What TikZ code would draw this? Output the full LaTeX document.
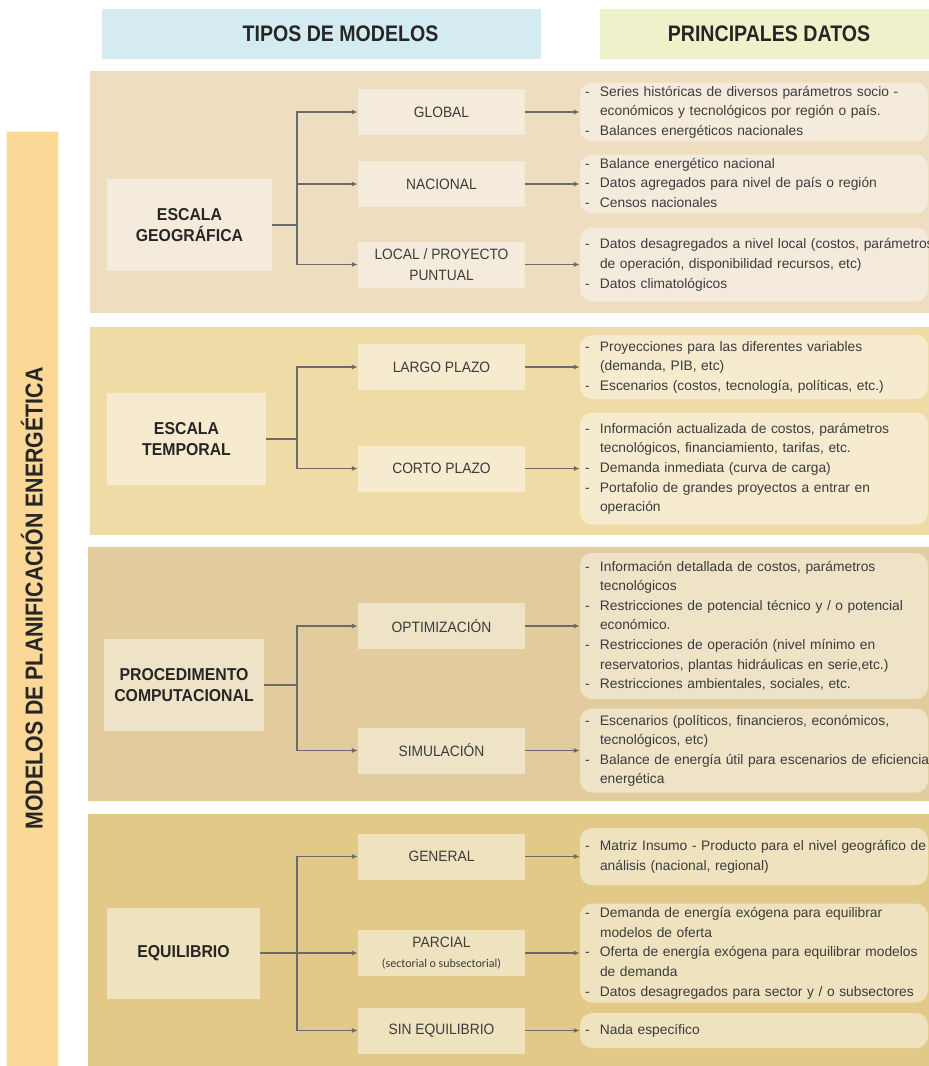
\documentclass[tikz,border=0pt]{standalone}
\usepackage{fontspec}
\setmainfont{Liberation Sans}
\newfontfamily\calib{Carlito}
\newfontfamily\narrowA{Liberation Sans}[FakeStretch=0.87]
\newfontfamily\narrowB{Liberation Sans}[FakeStretch=0.92]
\usepackage{array}
\usetikzlibrary{arrows.meta}

\definecolor{panA}{HTML}{EFDDBF}
\definecolor{boxA}{HTML}{F5EBDC}
\definecolor{panB}{HTML}{EFDBA6}
\definecolor{boxB}{HTML}{F6EACF}
\definecolor{panC}{HTML}{E2CB9D}
\definecolor{boxC}{HTML}{EEE2C7}
\definecolor{panD}{HTML}{E2C987}
\definecolor{boxD}{HTML}{EFE2BF}
\definecolor{barcol}{HTML}{FCD896}
\definecolor{headA}{HTML}{D4EBF1}
\definecolor{headB}{HTML}{EEF1C9}
\definecolor{txt}{HTML}{3C3C3C}
\definecolor{txtdark}{HTML}{262626}
\definecolor{linec}{HTML}{6A6A6A}

% bullet list with a hanging dash
\newcommand\datos[1]{\begin{tabular}{@{}p{15pt}@{}l@{}}#1\end{tabular}}

\tikzset{
  head/.style={inner sep=0pt, minimum height=50pt, text=txtdark,
    font=\narrowA\fontsize{22.5}{24}\selectfont\bfseries},
  lab/.style={inner sep=0pt, align=center, text=txtdark,
    font=\narrowB\fontsize{17.2}{21.5}\selectfont\bfseries},
  mid/.style={inner sep=0pt, minimum width=167pt, minimum height=46pt, align=center,
    text=txt, font=\narrowB\fontsize{15}{21}\selectfont},
  dat/.style={rounded corners=12pt, text width=338pt, inner xsep=5pt, inner ysep=0pt,
    align=left, text=txt, font=\fontsize{13.8}{19.6}\selectfont},
  conn/.style={draw=linec, line width=1.3pt},
  arr/.style={conn, -{Latex[length=6pt,width=5pt]}},
}

\begin{document}
\begin{tikzpicture}[x=1pt,y=-1pt]
\clip (0,0) rectangle (929,1066);
\fill[white] (0,0) rectangle (929,1066);

% column headers
\node[head, fill=headA, minimum width=439pt] (th) at (321.5,34) {\hspace*{38pt}TIPOS DE MODELOS};
\node[head, fill=headB, minimum width=338pt] (pd) at (769,34) {PRINCIPALES DATOS};

% vertical title bar
\fill[barcol] (6,131) rectangle (58,1070);
\draw[white!70!barcol, line width=0.8pt] (6,1070) -- (6,131) -- (58,131) -- (58,1070);
\node[rotate=90, text=txtdark, font=\narrowA\fontsize{24.5}{26}\selectfont\bfseries] (bar) at (32,598.5)
  {MODELOS DE PLANIFICACIÓN ENERGÉTICA};

% band backgrounds
\fill[panA] (90,71) rectangle (940,313);
\fill[panB] (90,327) rectangle (940,535);
\fill[panC] (88,547) rectangle (940,801);
\fill[panD] (88,814) rectangle (940,1070);

% ---------- escala geográfica ----------
\node[lab, fill=boxA, minimum width=165pt, minimum height=92pt] (geo) at (189.5,225) {ESCALA\\GEOGRÁFICA};
\node[mid, fill=boxA] (glob) at (441.5,112) {GLOBAL};
\node[mid, fill=boxA] (nac) at (441.5,184) {NACIONAL};
\node[mid, fill=boxA] (loc) at (441.5,264.5) {LOCAL / PROYECTO\\PUNTUAL};
\coordinate (j1) at (297,225);
\draw[conn] (geo.east) -- (j1);
\draw[arr] (j1) |- (glob.west);
\draw[arr] (j1) |- (nac.west);
\draw[arr] (j1) |- (loc.west);

\node[dat, fill=boxA, minimum height=58pt] (d1) at (754,112) {\datos{
  - & Series históricas de diversos parámetros socio -\\
    & económicos y tecnológicos por región o país.\\
  - & Balances energéticos nacionales}};
\node[dat, fill=boxA, minimum height=58pt] (d2) at (754,184) {\datos{
  - & Balance energético nacional\\
  - & Datos agregados para nivel de país o región\\
  - & Censos nacionales}};
\node[dat, fill=boxA, minimum height=74pt] (d3) at (754,264.5) {\datos{
  - & Datos desagregados a nivel local (costos, parámetros\\
    & de operación, disponibilidad recursos, etc)\\
  - & Datos climatológicos}};
\draw[arr] (glob.east) -- (d1.west |- glob.east);
\draw[arr] (nac.east) -- (d2.west |- nac.east);
\draw[arr] (loc.east) -- (d3.west |- loc.east);

% ---------- escala temporal ----------
\node[lab, fill=boxB, minimum width=159pt, minimum height=92pt] (tem) at (186.5,439) {ESCALA\\TEMPORAL};
\node[mid, fill=boxB] (lar) at (441.5,367) {LARGO PLAZO};
\node[mid, fill=boxB] (cor) at (441.5,468.5) {CORTO PLAZO};
\coordinate (j2) at (297,439);
\draw[conn] (tem.east) -- (j2);
\draw[arr] (j2) |- (lar.west);
\draw[arr] (j2) |- (cor.west);

\node[dat, fill=boxB, minimum height=64pt] (d4) at (754,367) {\datos{
  - & Proyecciones para las diferentes variables\\
    & (demanda, PIB, etc)\\
  - & Escenarios (costos, tecnología, políticas, etc.)}};
\node[dat, fill=boxB, minimum height=112pt] (d5) at (754,468.5) {\datos{
  - & Información actualizada de costos, parámetros\\
    & tecnológicos, financiamiento, tarifas, etc.\\
  - & Demanda inmediata (curva de carga)\\
  - & Portafolio de grandes proyectos a entrar en\\
    & operación}};
\draw[arr] (lar.east) -- (d4.west |- lar.east);
\draw[arr] (cor.east) -- (d5.west |- cor.east);

% ---------- procedimiento computacional ----------
\node[lab, fill=boxC, minimum width=160pt, minimum height=92pt] (pro) at (184,685) {PROCEDIMENTO\\COMPUTACIONAL};
\node[mid, fill=boxC] (opt) at (441.5,626) {OPTIMIZACIÓN};
\node[mid, fill=boxC] (sim) at (441.5,750.5) {SIMULACIÓN};
\coordinate (j3) at (297,685);
\draw[conn] (pro.east) -- (j3);
\draw[arr] (j3) |- (opt.west);
\draw[arr] (j3) |- (sim.west);

\node[dat, fill=boxC, minimum height=146pt] (d6) at (754,626) {\datos{
  - & Información detallada de costos, parámetros\\
    & tecnológicos\\
  - & Restricciones de potencial técnico y / o potencial\\
    & económico.\\
  - & Restricciones de operación (nivel mínimo en\\
    & reservatorios, plantas hidráulicas en serie,etc.)\\
  - & Restricciones ambientales, sociales, etc.}};
\node[dat, fill=boxC, minimum height=84pt] (d7) at (754,750.5) {\datos{
  - & Escenarios (políticos, financieros, económicos,\\
    & tecnológicos, etc)\\
  - & Balance de energía útil para escenarios de eficiencia\\
    & energética}};
\draw[arr] (opt.east) -- (d6.west |- opt.east);
\draw[arr] (sim.east) -- (d7.west |- sim.east);

% ---------- equilibrio ----------
\node[lab, fill=boxD, minimum width=153pt, minimum height=91pt] (equ) at (183.5,953) {EQUILIBRIO};
\node[mid, fill=boxD] (gen) at (441.5,856.5) {GENERAL};
\node[mid, fill=boxD] (par) at (441.5,953) {PARCIAL\\[-1pt]{\calib\fontsize{12}{14}\selectfont (sectorial o subsectorial)}};
\node[mid, fill=boxD] (sin) at (441.5,1030.5) {SIN EQUILIBRIO};
\coordinate (j4) at (297,953);
\draw[arr] (equ.east) -- (par.west);
\draw[arr] (j4) |- (gen.west);
\draw[arr] (j4) |- (sin.west);

\node[dat, fill=boxD, minimum height=57pt] (d8) at (754,856.5) {\datos{
  - & Matriz Insumo - Producto para el nivel geográfico de\\
    & análisis (nacional, regional)}};
\node[dat, fill=boxD, minimum height=99pt] (d9) at (754,953) {\datos{
  - & Demanda de energía exógena para equilibrar\\
    & modelos de oferta\\
  - & Oferta de energía exógena para equilibrar modelos\\
    & de demanda\\
  - & Datos desagregados para sector y / o subsectores}};
\node[dat, fill=boxD, minimum height=35pt] (d10) at (754,1030.5) {\datos{
  - & Nada específico}};
\draw[arr] (gen.east) -- (d8.west |- gen.east);
\draw[arr] (par.east) -- (d9.west |- par.east);
\draw[arr] (sin.east) -- (d10.west |- sin.east);
\end{tikzpicture}
\end{document}
